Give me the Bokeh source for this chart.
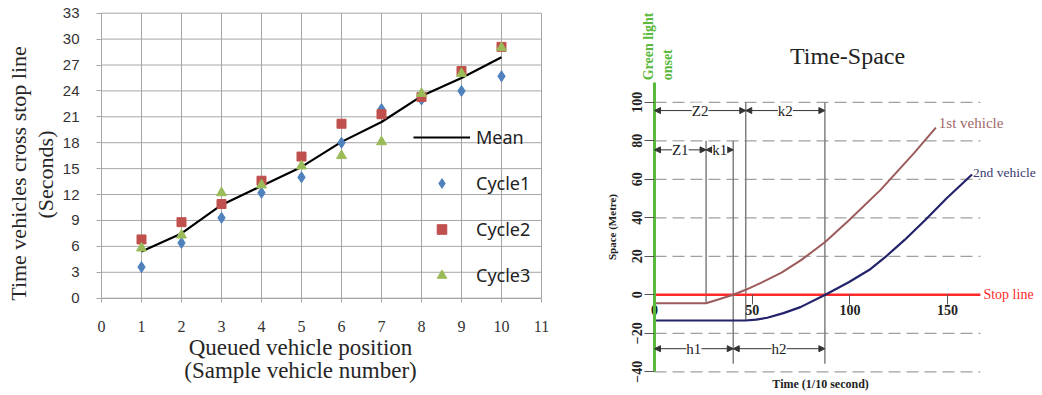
import math
from bokeh.plotting import figure
from bokeh.models import (Range1d, FixedTicker, Legend, LegendItem, Label, LabelSet,
                          Arrow, NormalHead, ColumnDataSource)
from bokeh.layouts import row
from bokeh.embed import file_html
from bokeh.resources import INLINE

# ---------------- Left chart data ----------------
positions = [1, 2, 3, 4, 5, 6, 7, 8, 9, 10]
cycle1 = [3.6, 6.4, 9.3, 12.2, 14.0, 18.0, 21.9, 23.0, 24.0, 25.7]
cycle2 = [6.8, 8.8, 10.9, 13.6, 16.4, 20.2, 21.3, 23.3, 26.3, 29.1]
cycle3 = [5.8, 7.3, 12.2, 13.1, 15.3, 16.5, 18.1, 23.7, 26.0, 29.0]
mean_line = [5.4, 7.5, 10.8, 13.0, 15.2, 18.1, 20.4, 23.4, 25.5, 27.9]
left_x_ticks = list(range(0, 12))
left_y_ticks = list(range(0, 34, 3))
left_x_max = 11
left_y_max = 33

# ---------------- Right chart data ----------------
veh1_t = [0, 26.4, 33, 40.3, 46.7, 55, 65, 75, 87.2, 99.4, 115.7, 132.7, 144]
veh1_s = [-4.35, -4.35, -2.3, 0, 2.6, 6.5, 11.5, 18, 27.3, 38.6, 54.5, 73.5, 86.8]
veh2_t = [0, 46.6, 52, 57.7, 66, 74.7, 87.4, 99.4, 110, 119, 128, 138.7, 149.4, 162.5]
veh2_s = [-13.35, -13.35, -12.9, -11.9, -9.5, -6.4, 0, 6.5, 13, 20.4, 28.5, 39, 50, 62.5]
space_ticks = [-40, -20, 0, 20, 40, 60, 80, 100]
time_ticks = [0, 50, 100, 150]
grid_levels = [-40, -20, 20, 40, 60, 80, 100]
time_max = 166.8
space_min, space_max = -40, 110.1
# construction (guide) lines
guide_t = [26.4, 40.3, 46.7, 87.2]
guide_top = [80, 80, 100, 100]
guide_bottom = [-4.35, -35.8, -13.35, -35.8]
# dimension arrows
dim_labels = ["Z2", "k2", "Z1", "k1", "h1", "h2"]
dim_start = [0, 46.7, 0, 26.4, 0, 40.3]
dim_end = [46.7, 87.2, 26.4, 40.3, 40.3, 87.2]
dim_level = [95.7, 95.7, 75.3, 75.3, -28, -28]

# ================= Left figure =================
GRID = "#a6a6a6"
SERIF = "Liberation Serif"
# frame covers the whole canvas: x=0 at 101px (40px/unit), y=0 at 297.7px (8.636px/unit)
p1 = figure(width=561, height=395, x_range=Range1d(-2.525, 11.5),
            y_range=Range1d(-11.27, 34.47),
            output_backend="svg", toolbar_location=None,
            min_border_left=0, min_border_right=0, min_border_top=0, min_border_bottom=0)
p1.outline_line_color = None
p1.xgrid.visible = False
p1.ygrid.visible = False
# grid lines limited to the chart area
p1.segment(x0=left_x_ticks, y0=[0] * len(left_x_ticks), x1=left_x_ticks,
           y1=[left_y_max] * len(left_x_ticks), line_color=GRID, line_width=1)
p1.segment(x0=[0] * len(left_y_ticks), y0=left_y_ticks, x1=[left_x_max] * len(left_y_ticks),
           y1=left_y_ticks, line_color=GRID, line_width=1)

for ax in (p1.xaxis[0], p1.yaxis[0]):
    ax.axis_line_color = GRID
    ax.major_tick_line_color = GRID
    ax.minor_tick_line_color = None
    ax.major_tick_in = 0
    ax.major_label_text_color = "#333333"

p1.xaxis.fixed_location = 0
p1.xaxis.bounds = (0, left_x_max)
p1.xaxis.ticker = FixedTicker(ticks=left_x_ticks)
p1.xaxis.major_tick_out = 4
p1.xaxis.major_label_standoff = 19
p1.xaxis.major_label_text_font = SERIF
p1.xaxis.major_label_text_font_size = "16px"

p1.yaxis.fixed_location = 0
p1.yaxis.bounds = (0, left_y_max)
p1.yaxis.ticker = FixedTicker(ticks=left_y_ticks)
p1.yaxis.major_tick_out = 5
p1.yaxis.major_label_standoff = 17
p1.yaxis.major_label_text_font = "Liberation Sans"
p1.yaxis.major_label_text_font_size = "15px"

r_mean = p1.line(positions, mean_line, line_color="black", line_width=2.2)
r_c1 = p1.scatter(positions, cycle1, marker="diamond", size=11, color="#4F81BD")
r_c2 = p1.scatter(positions, cycle2, marker="square", size=9, color="#C0504D")
r_c3 = p1.scatter(positions, cycle3, marker="triangle", size=10, color="#9BBB59")

legend = Legend(items=[LegendItem(label="Mean", renderers=[r_mean]),
                       LegendItem(label="Cycle1", renderers=[r_c1]),
                       LegendItem(label="Cycle2", renderers=[r_c2]),
                       LegendItem(label="Cycle3", renderers=[r_c3])],
                location=(413, 108), orientation="vertical",
                glyph_width=57, glyph_height=24, label_height=24, spacing=22,
                padding=0, margin=0, label_standoff=6,
                label_text_font="Noto Sans", label_text_font_size="18px",
                label_text_color="#222222",
                background_fill_alpha=0, border_line_color=None)
p1.add_layout(legend)

# axis titles
AX_COL = "#262626"
p1.add_layout(Label(x=-2.075, y=14.44, text="Time vehicles cross stop line", angle=math.pi / 2,
                    text_align="center", text_baseline="middle", text_font=SERIF,
                    text_font_size="22px", text_color=AX_COL))
p1.add_layout(Label(x=-1.4, y=14.32, text="(Seconds)", angle=math.pi / 2,
                    text_align="center", text_baseline="middle", text_font=SERIF,
                    text_font_size="22px", text_color=AX_COL))
p1.add_layout(Label(x=4.975, y=-5.71, text="Queued vehicle position",
                    text_align="center", text_baseline="middle", text_font=SERIF,
                    text_font_size="23px", text_color=AX_COL))
p1.add_layout(Label(x=4.975, y=-8.37, text="(Sample vehicle number)",
                    text_align="center", text_baseline="middle", text_font=SERIF,
                    text_font_size="23px", text_color=AX_COL))

# ================= Right figure =================
GREEN = "#5ab83c"
# frame covers the whole canvas: t=0 at 654px (1.954px/unit), s=0 at 294.3px (1.925px/unit)
p2 = figure(width=481, height=395, x_range=Range1d(-47.59, 198.57),
            y_range=Range1d(-52.31, 152.88),
            output_backend="svg", toolbar_location=None,
            min_border_left=0, min_border_right=0, min_border_top=0, min_border_bottom=0)
p2.outline_line_color = None
p2.xgrid.visible = False
p2.ygrid.visible = False

# dashed horizontal grid lines between t=0 and the end of the time window
p2.segment(x0=[0] * len(grid_levels), y0=grid_levels, x1=[time_max] * len(grid_levels),
           y1=grid_levels, line_color="#a0a0a0", line_dash="12 6", line_width=1.3)

p2.yaxis.fixed_location = 0
p2.yaxis.bounds = (space_min, space_max)
p2.yaxis.ticker = FixedTicker(ticks=space_ticks)
p2.yaxis.axis_line_color = GREEN
p2.yaxis.axis_line_width = 3
p2.yaxis.major_tick_line_color = "#555555"
p2.yaxis.minor_tick_line_color = None
p2.yaxis.major_tick_out = 10
p2.yaxis.major_tick_in = 0
p2.yaxis.major_label_orientation = "vertical"
p2.yaxis.major_label_text_font = SERIF
p2.yaxis.major_label_text_font_style = "bold"
p2.yaxis.major_label_text_font_size = "14px"
p2.yaxis.major_label_text_color = "#222222"
p2.yaxis.major_label_standoff = 2
p2.yaxis.axis_label = "Space (Metre)"
p2.yaxis.axis_label_text_font = SERIF
p2.yaxis.axis_label_text_font_style = "bold"
p2.yaxis.axis_label_text_font_size = "11px"
p2.yaxis.axis_label_text_color = "#222222"
p2.yaxis.axis_label_standoff = 12

p2.xaxis.fixed_location = 0
p2.xaxis.bounds = (0, time_max)
p2.xaxis.ticker = FixedTicker(ticks=time_ticks)
p2.xaxis.axis_line_color = None
p2.xaxis.major_tick_line_color = "#555555"
p2.xaxis.minor_tick_line_color = None
p2.xaxis.major_tick_out = 10
p2.xaxis.major_tick_in = 0
p2.xaxis.major_label_standoff = 0
p2.xaxis.major_label_text_font = SERIF
p2.xaxis.major_label_text_font_style = "bold"
p2.xaxis.major_label_text_font_size = "14px"
p2.xaxis.major_label_text_color = "#222222"

# guide lines
p2.segment(x0=guide_t, y0=guide_bottom, x1=guide_t, y1=guide_top,
           line_color="#808080", line_width=1.5)

# stop line
p2.segment(x0=[0], y0=[0], x1=[time_max], y1=[0], line_color="#ff2a2a", line_width=2.5)

# vehicle trajectories
p2.line(veh1_t, veh1_s, line_color="#9c5b5b", line_width=2)
p2.line(veh2_t, veh2_s, line_color="#23236b", line_width=2.2)

# dimension arrows
dim_src = ColumnDataSource(dict(x0=dim_start, x1=dim_end, y=dim_level, text=dim_labels,
                                xm=[(a + b) / 2 for a, b in zip(dim_start, dim_end)]))
p2.add_layout(Arrow(x_start="x0", y_start="y", x_end="x1", y_end="y", source=dim_src,
                    line_color="#333333", line_width=1,
                    start=NormalHead(size=6, fill_color="#333333", line_color="#333333"),
                    end=NormalHead(size=6, fill_color="#333333", line_color="#333333")))
p2.add_layout(LabelSet(x="xm", y="y", text="text", source=dim_src, text_align="center",
                       text_baseline="middle", text_font=SERIF,
                       text_font_size="15px", text_color="#222222",
                       background_fill_color="white"))

# texts
p2.add_layout(Label(x=98.8, y=124.3, text="Time-Space", text_font=SERIF,
                    text_font_size="24px", text_align="center", text_baseline="middle",
                    text_color="#222222"))
p2.add_layout(Label(x=-3.1, y=111.4, text="Green light", angle=math.pi / 2,
                    text_align="left", text_baseline="middle", text_color=GREEN,
                    text_font=SERIF, text_font_style="bold", text_font_size="14px"))
p2.add_layout(Label(x=6.7, y=111.4, text="onset", angle=math.pi / 2,
                    text_align="left", text_baseline="middle", text_color=GREEN,
                    text_font=SERIF, text_font_style="bold", text_font_size="14px"))
p2.add_layout(Label(x=85, y=-46.3, text="Time (1/10 second)", text_align="center",
                    text_baseline="middle", text_color="#222222",
                    text_font=SERIF, text_font_style="bold", text_font_size="12px"))
p2.add_layout(Label(x=time_max, y=0, x_offset=3, text="Stop line", text_align="left",
                    text_baseline="middle", text_color="#ff2a2a",
                    text_font=SERIF, text_font_size="14px"))
p2.add_layout(Label(x=veh1_t[-1], y=veh1_s[-1], x_offset=3, y_offset=5, text="1st vehicle",
                    text_align="left", text_baseline="middle", text_color="#a06868",
                    text_font=SERIF, text_font_size="15px"))
p2.add_layout(Label(x=veh2_t[-1], y=veh2_s[-1], x_offset=1, y_offset=2, text="2nd vehicle",
                    text_align="left", text_baseline="middle", text_color="#3a3a6e",
                    text_font=SERIF, text_font_size="13.5px"))

layout = row(p1, p2)
open("out.html", "w").write(file_html(layout, INLINE))
